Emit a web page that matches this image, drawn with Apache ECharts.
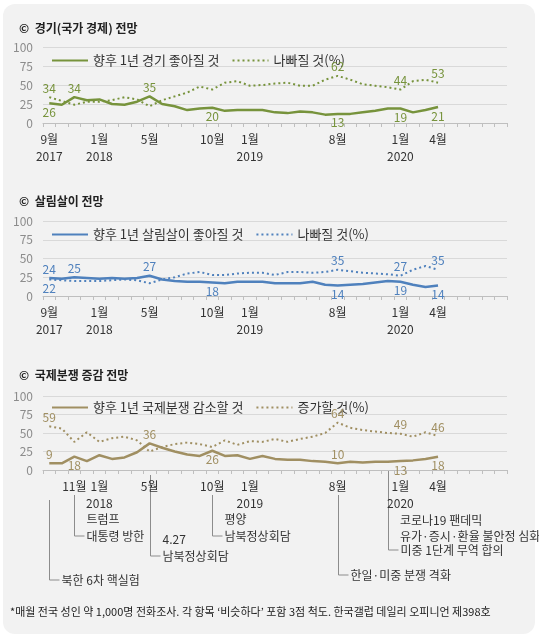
<!DOCTYPE html>
<html>
<head>
<meta charset="utf-8">
<script src="https://cdn.jsdelivr.net/npm/echarts@6/dist/echarts.min.js"></script>
<style>
    html, body { margin: 0; padding: 0; background: #fff; }
    #chart { width: 539px; height: 639px; }
</style>
</head>
<body>
<div id="chart"></div>
<script>
// 2017.9 ~ 2020.9 월별 (37칸), 값은 2020.4 까지
var months = [];
for (var i = 0; i < 37; i++) {
    months.push((8 + i) % 12 + 1);
}
var years = {0: '2017', 4: '2018', 16: '2019', 28: '2020'};
var tickIdxTop = [0, 4, 8, 13, 16, 23, 28, 31];
var tickIdxBottom = [0, 2, 4, 8, 13, 16, 23, 28, 31];

// 경기
var econGood = [26, 24, 34, 30, 31, 25, 24, 28, 35, 25, 22, 17, 19, 20, 16, 17, 17, 17, 14, 13, 15, 14, 11, 12, 12, 14, 16, 19, 19, 14, 17, 21];
var econBad  = [34, 29, 24, 28, 28, 30, 34, 31, 22, 30, 35, 40, 48, 44, 53, 55, 49, 50, 52, 53, 49, 49, 57, 62, 57, 51, 49, 47, 44, 55, 57, 53];
// 살림살이
var lifeGood = [24, 23, 25, 24, 23, 24, 23, 24, 27, 22, 20, 19, 19, 18, 17, 19, 19, 19, 17, 17, 17, 19, 15, 14, 15, 16, 18, 20, 19, 15, 12, 14];
var lifeBad  = [22, 21, 20, 20, 20, 21, 22, 21, 17, 22, 25, 30, 32, 28, 28, 30, 31, 31, 28, 32, 32, 31, 32, 35, 33, 31, 30, 29, 27, 35, 40, 35];
// 국제분쟁
var warGood = [9, 9, 18, 12, 20, 15, 17, 24, 36, 30, 25, 21, 19, 26, 19, 20, 15, 19, 15, 14, 14, 12, 11, 9, 11, 10, 11, 11, 12, 13, 15, 18];
var warBad  = [59, 56, 38, 51, 38, 43, 45, 40, 25, 31, 35, 37, 35, 31, 40, 34, 39, 38, 42, 38, 42, 45, 50, 64, 57, 54, 52, 50, 49, 45, 51, 46];

// 표시할 값: [index, 위치]
var econGoodLbl = [[0, 'bottom'], [2, 'top'], [8, 'top'], [13, 'bottom'], [23, 'bottom'], [28, 'bottom'], [31, 'bottom']];
var econBadLbl  = [[0, 'top'], [23, 'top'], [28, 'top'], [31, 'top']];
var lifeGoodLbl = [[0, 'top'], [2, 'top'], [8, 'top'], [13, 'bottom'], [23, 'bottom'], [28, 'bottom'], [31, 'bottom']];
var lifeBadLbl  = [[0, 'bottom'], [23, 'top'], [28, 'top'], [31, 'top']];
var warGoodLbl  = [[0, 'top'], [2, 'bottom'], [8, 'top'], [13, 'bottom'], [23, 'top'], [28, 'bottom'], [31, 'bottom']];
var warBadLbl   = [[0, 'top'], [23, 'top'], [28, 'top'], [31, 'top']];
// 라벨 값 (그림 표기값)
var econGoodTxt = {0: 26, 2: 34, 8: 35, 13: 20, 23: 13, 28: 19, 31: 21};
var warGoodTxt  = {0: 9, 2: 18, 8: 36, 13: 26, 23: 10, 28: 13, 31: 18};

// 사건 주석: [index, 선 시작 y, 선 끝 y, 문구]
var events = [
    [0, 500, 580, '북한 6차 핵실험'],
    [2, 495, 536, '트럼프\n대통령 방한'],
    [8, 475, 556, '4.27\n남북정상회담'],
    [13, 495, 536, '평양\n남북정상회담'],
    [23, 495, 575, '한일·미중 분쟁 격화'],
    [27, 470, 550, '미중 1단계 무역 합의']
];

var FONT = '"Noto Sans CJK KR", sans-serif';
var grids = [
    {left: 43, right: 32, top: 47, height: 76},
    {left: 43, right: 32, top: 221, height: 75},
    {left: 43, right: 32, top: 396, height: 74}
];

function markLabels(values, lbls, color, txt) {
    return lbls.map(function (l) {
        var i = l[0];
        var t = txt && txt[i] !== undefined ? txt[i] : values[i];
        return {
            coord: [i, values[i]],
            symbol: 'circle',
            symbolSize: 0,
            label: {
                show: true,
                position: l[1],
                distance: 3,
                color: color,
                fontSize: 12,
                fontFamily: FONT,
                formatter: String(t)
            }
        };
    });
}

function makeSeries(name, values, lbls, color, dashed, gi, txt) {
    return {
        name: name,
        type: 'line',
        xAxisIndex: gi,
        yAxisIndex: gi,
        symbol: 'none',
        lineStyle: {color: color, width: dashed ? 2 : 2.5, type: dashed ? [2, 3] : 'solid'},
        itemStyle: {color: color},
        data: values,
        markPoint: {silent: true, data: markLabels(values, lbls, color, txt)},
        z: dashed ? 2 : 3
    };
}

function xAxis(gi, ticks) {
    return {
        type: 'category',
        gridIndex: gi,
        data: months,
        boundaryGap: true,
        axisLine: {lineStyle: {color: '#bfbfbf'}},
        axisTick: {show: true, interval: 0, length: 4, lineStyle: {color: '#bfbfbf'}},
        axisLabel: {
            interval: function (idx) { return ticks.indexOf(idx) >= 0; },
            hideOverlap: false,
            color: '#333',
            fontSize: 12,
            fontFamily: FONT,
            lineHeight: 17,
            margin: 8,
            formatter: function (v, idx) {
                return v + '월' + (years[idx] ? '\n' + years[idx] : '');
            }
        }
    };
}

function yAxis(gi) {
    return {
        type: 'value',
        gridIndex: gi,
        min: 0,
        max: 100,
        interval: 25,
        axisLabel: {color: '#8c8c8c', fontSize: 12, fontFamily: FONT, margin: 10},
        splitLine: {lineStyle: {color: '#d9d9d9'}},
        axisLine: {show: false},
        axisTick: {show: false}
    };
}

var C_ECON = '#77933c', C_LIFE = '#4f81bd', C_WAR = '#a08f62';

var chart = echarts.init(document.getElementById('chart'));

var titles = [['경기(국가 경제) 전망', 17], ['살림살이 전망', 190], ['국제분쟁 증감 전망', 364]];

var option = {
    animation: false,
    backgroundColor: '#fff',
    textStyle: {fontFamily: FONT},
    title: titles.map(function (t) {
        return {
            text: '©  ' + t[0],
            left: 14,
            top: t[1],
            textStyle: {fontSize: 12, fontWeight: 'bold', color: '#222', fontFamily: FONT}
        };
    }),
    legend: [
        {data: ['향후 1년 경기 좋아질 것', '나빠질 것(%)'], top: 49},
        {data: ['향후 1년 살림살이 좋아질 것', '나빠질 것(%) '], top: 223},
        {data: ['향후 1년 국제분쟁 감소할 것', '증가할 것(%)'], top: 396}
    ].map(function (l) {
        return {
            data: l.data, top: l.top, left: 46,
            itemWidth: 36, itemHeight: 10, itemGap: 12,
            itemStyle: {opacity: 0},
            textStyle: {fontSize: 13, color: '#333', fontFamily: FONT}
        };
    }),
    grid: grids,
    xAxis: [xAxis(0, tickIdxTop), xAxis(1, tickIdxTop), xAxis(2, tickIdxBottom)],
    yAxis: [yAxis(0), yAxis(1), yAxis(2)],
    series: [
        makeSeries('향후 1년 경기 좋아질 것', econGood, econGoodLbl, C_ECON, false, 0, econGoodTxt),
        makeSeries('나빠질 것(%)', econBad, econBadLbl, C_ECON, true, 0),
        makeSeries('향후 1년 살림살이 좋아질 것', lifeGood, lifeGoodLbl, C_LIFE, false, 1),
        makeSeries('나빠질 것(%) ', lifeBad, lifeBadLbl, C_LIFE, true, 1),
        makeSeries('향후 1년 국제분쟁 감소할 것', warGood, warGoodLbl, C_WAR, false, 2, warGoodTxt),
        makeSeries('증가할 것(%)', warBad, warBadLbl, C_WAR, true, 2)
    ]
};
chart.setOption(option);

// 배경 카드 + 사건 주석
var graphics = [{
    type: 'rect', z: -10, silent: true,
    shape: {x: 3, y: 4, width: 532, height: 630, r: 12},
    style: {fill: '#f2f2f2'}
}];
events.forEach(function (ev) {
    var x = Math.round(chart.convertToPixel({xAxisIndex: 2}, ev[0])) + 0.5;
    graphics.push({
        type: 'polyline', silent: true,
        shape: {points: [[x, ev[1]], [x, ev[2]], [x + 10, ev[2]]]},
        style: {stroke: '#8c8c8c', lineWidth: 1, fill: null}
    });
    var lines = ev[3].split('\n').length;
    graphics.push({
        type: 'text', silent: true,
        x: x + 12, y: ev[2] - (lines - 1) * 17 - 8,
        style: {text: ev[3], font: '12px ' + FONT, fill: '#333', lineHeight: 17}
    });
});
var xc = Math.round(chart.convertToPixel({xAxisIndex: 2}, 27));
graphics.push({
    type: 'text', silent: true,
    x: xc + 12, y: 512,
    style: {text: '코로나19 팬데믹\n유가·증시·환율 불안정 심화', font: '12px ' + FONT, fill: '#333', lineHeight: 16}
});
graphics.push({
    type: 'text', silent: true,
    x: 10, y: 606,
    style: {text: '*매월 전국 성인 약 1,000명 전화조사. 각 항목 \u2018비슷하다\u2019 포함 3점 척도. 한국갤럽 데일리 오피니언 제398호', font: '11px ' + FONT, fill: '#222'}
});
chart.setOption({graphic: graphics});
</script>
</body>
</html>
